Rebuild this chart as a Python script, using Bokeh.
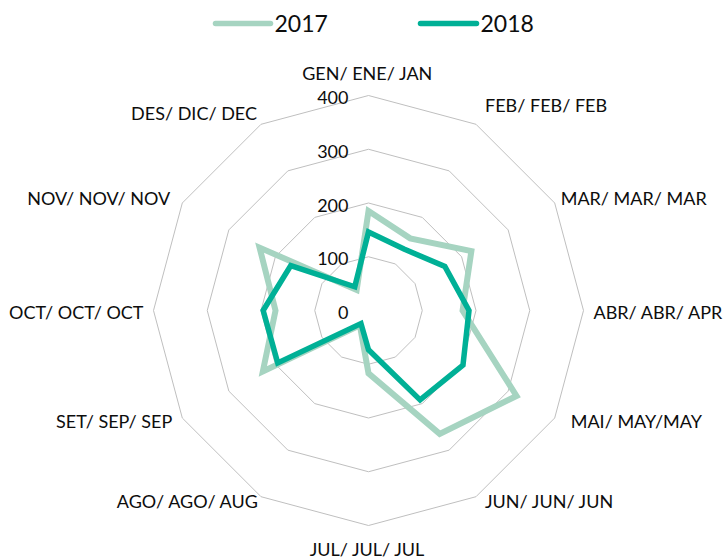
import numpy as np
from bokeh.plotting import figure
from bokeh.models import Range1d, ColumnDataSource
from bokeh.core.properties import value
from bokeh.embed import file_html
from bokeh.resources import INLINE

# ---- data ----
months = ["GEN/ ENE/ JAN", "FEB/ FEB/ FEB", "MAR/ MAR/ MAR", "ABR/ ABR/ APR",
          "MAI/ MAY/MAY", "JUN/ JUN/ JUN", "JUL/ JUL/ JUL", "AGO/ AGO/ AUG",
          "SET/ SEP/ SEP", "OCT/ OCT/ OCT", "NOV/ NOV/ NOV", "DES/ DIC/ DEC"]
v2017 = [185, 155, 221, 175, 318, 265, 117, 32, 227, 173, 234, 44]
v2018 = [146, 132, 164, 187, 203, 192, 73, 28, 195, 196, 167, 51]
ticks = [0, 100, 200, 300, 400]
series_names = ["2017", "2018"]

C17 = "#a6d4c1"
C18 = "#00b096"
GRID = "#bfbfbf"
FONT = "Lato"
TXT = "#0d0d0d"

W, H = 726, 559
CX, CY = 368, 310          # centre in frame px
S = 215.0 / 400.0          # px per unit

p = figure(width=W, height=H, output_backend="svg", toolbar_location=None,
           x_range=Range1d(-CX / S, (W - CX) / S),
           y_range=Range1d(-(H - CY) / S, CY / S),
           min_border=0, outline_line_color=None)
p.axis.visible = False
p.grid.visible = False
p.background_fill_color = "white"
p.border_fill_color = "white"

n = len(months)
ang = np.arange(n) * 2 * np.pi / n
sx, cy_ = np.sin(ang), np.cos(ang)

# rings
for t in ticks[1:]:
    xs = list(t * sx) + [t * sx[0]]
    ys = list(t * cy_) + [t * cy_[0]]
    p.line(xs, ys, line_color=GRID, line_width=1)

# series
for vals, col, lw in [(v2017, C17, 6), (v2018, C18, 5.5)]:
    v = np.array(vals, dtype=float)
    p.patch(list(v * sx), list(v * cy_), fill_color=None, line_color=col,
            line_width=lw, line_join="miter")

# category labels
R = ticks[-1]
xoff = [-1, 9, 6, 10, 16, 9, -1, -2, -10, -10, -12, -4]
yoff = [-23, -19, -5, 1, 3, 4, 23, 4, 3, 1, -5, -11]
align = ["center", "left", "left", "left", "left", "left", "center",
         "right", "right", "right", "right", "right"]
src = ColumnDataSource(dict(x=list(R * sx), y=list(R * cy_), t=months,
                            xo=xoff, yo=yoff, al=align))
p.text(x="x", y="y", text="t", x_offset="xo", y_offset="yo", text_align="al",
       text_baseline="middle", source=src, text_font=value(FONT),
       text_font_size="18px", text_color=TXT)

# tick labels
p.text(x=[0] * len(ticks), y=ticks, text=[str(t) for t in ticks],
       x_offset=-20, y_offset=2, text_align="right", text_baseline="middle",
       text_font=value(FONT), text_font_size="18px", text_color=TXT)

# legend (manual)
def px(xp, yp):
    return (xp - CX) / S, (CY - yp) / S

for (x0, x1), col, name in [((215, 270), C17, series_names[0]),
                            ((420, 476), C18, series_names[1])]:
    a = px(x0, 23)
    b = px(x1, 23)
    p.line([a[0], b[0]], [a[1], b[1]], line_color=col, line_width=5.5,
           line_cap="round")
    p.text(x=[b[0]], y=[b[1]], text=[name], x_offset=4, text_align="left",
           text_baseline="middle", text_font=value(FONT),
           text_font_size="23px", text_color=TXT)

open("out.html", "w").write(file_html(p, INLINE))
